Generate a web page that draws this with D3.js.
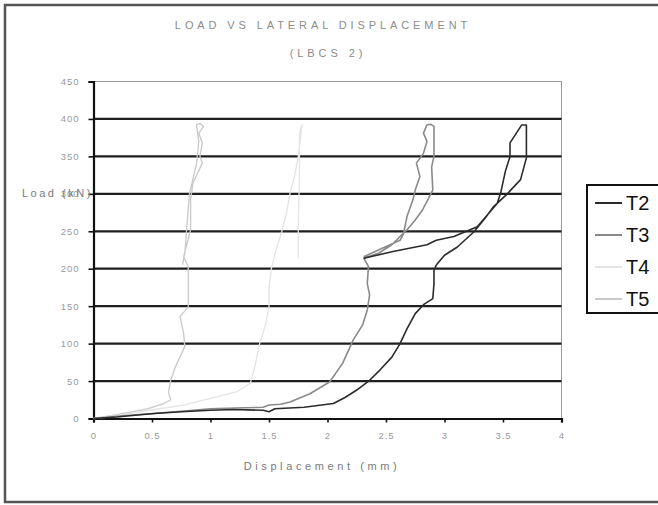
<!DOCTYPE html>
<html>
<head>
<meta charset="utf-8">
<script src="https://cdn.jsdelivr.net/npm/d3@7"></script>
<style>
  body { margin: 0; background: #fff; }
  svg { display: block; font-family: "Liberation Sans", Arial, sans-serif; }
</style>
</head>
<body>
<svg id="chart" width="658" height="505"></svg>
<script>
// series names + colours (legend order)
let seriesNames = ['T2', 'T3', 'T4', 'T5'];
let seriesColors = ['#2b2b2b', '#8a8a8a', '#e4e4e4', '#c9c9c9'];

let xTicks = [0, 0.5, 1, 1.5, 2, 2.5, 3, 3.5, 4];
let yTicks = [0, 50, 100, 150, 200, 250, 300, 350, 400, 450];

// [displacement (mm), load (kN)]
let t2 = [[0,0],[0.2,2],[0.4,5],[0.55,7],[0.75,9],[1.0,11],[1.2,12],[1.45,11],[1.5,9],[1.55,13],
  [1.8,15],[2.05,20],[2.15,28],[2.25,38],[2.36,51],[2.45,65],[2.55,82],[2.62,100],[2.68,120],
  [2.75,140],[2.82,152],[2.9,160],[2.91,180],[2.91,198],[2.93,205],[3.0,218],[3.11,229],[3.25,249],
  [3.35,268],[3.42,283],[3.53,299],[3.65,319],[3.7,348],[3.7,392],[3.66,392],[3.56,368],[3.56,350],
  [3.52,330],[3.48,301],[3.45,287],[3.28,256],[3.08,243],[2.93,238],[2.85,232],[2.56,223],[2.31,214]];

let t3 = [[0,0],[0.2,3],[0.45,6],[0.7,9],[1.0,13],[1.2,14],[1.45,15],[1.5,18],[1.6,19],[1.68,22],
  [1.85,33],[2.02,49],[2.13,74],[2.22,105],[2.3,125],[2.34,145],[2.36,165],[2.34,180],[2.35,203],
  [2.31,214],[2.44,221],[2.55,232],[2.62,243],[2.68,252],[2.75,265],[2.81,278],[2.9,305],[2.89,336],
  [2.91,350],[2.91,390],[2.88,393],[2.85,392],[2.82,381],[2.85,370],[2.82,354],[2.76,341],[2.79,323],
  [2.75,305],[2.73,292],[2.68,270],[2.65,247],[2.62,238],[2.45,226],[2.31,216]];

let t4 = [[0,0],[0.25,5],[0.48,11],[0.77,18],[1.05,29],[1.23,36],[1.34,47],[1.38,70],[1.42,100],
  [1.47,125],[1.5,149],[1.5,175],[1.52,200],[1.56,225],[1.61,250],[1.65,275],[1.68,301],[1.72,325],
  [1.75,350],[1.77,375],[1.78,392],[1.76,380],[1.76,320],[1.75,260],[1.75,214]];

let t5 = [[0,0],[0.2,5],[0.46,13],[0.6,20],[0.66,25],[0.64,35],[0.66,51],[0.7,69],[0.78,96],
  [0.77,114],[0.74,136],[0.81,149],[0.81,175],[0.81,203],[0.77,216],[0.8,234],[0.83,252],[0.83,292],
  [0.85,314],[0.93,341],[0.91,350],[0.93,368],[0.9,381],[0.94,390],[0.91,394],[0.88,392],[0.9,370],
  [0.88,340],[0.82,300],[0.8,260],[0.78,220],[0.76,205]];

let seriesData = [t2, t3, t4, t5];

let svg = d3.select('#chart');

// outer chart border (runs off the right side)
svg.append('rect')
  .attr('x', 5).attr('y', 5)
  .attr('width', 700).attr('height', 497)
  .style('fill', 'none')
  .style('stroke', '#555')
  .style('stroke-width', 2.5);

let sx = d3.scaleLinear().domain([0, 4]).range([93.5, 561.5]);
let sy = d3.scaleLinear().domain([0, 450]).range([418.5, 81.5]);

// title
let title = svg.append('g')
  .style('fill', '#8c8c8c')
  .style('font-size', '11px')
  .style('letter-spacing', '3.9px')
  .style('text-anchor', 'middle');
title.append('text').attr('x', 323).attr('y', 29).text('LOAD VS LATERAL DISPLACEMENT');
title.append('text').attr('x', 328).attr('y', 57).text('(LBCS 2)');

// plot area border (right + top edges, light)
svg.append('rect')
  .attr('x', sx(0)).attr('y', sy(450))
  .attr('width', sx(4) - sx(0)).attr('height', sy(0) - sy(450))
  .style('fill', 'none')
  .style('stroke', '#999')
  .style('stroke-width', 1);

// gridlines
svg.append('g')
  .selectAll('line')
  .data(yTicks.filter(d => d > 0 && d < 450))
  .enter()
  .append('line')
    .attr('x1', sx(0)).attr('x2', sx(4))
    .attr('y1', d => sy(d)).attr('y2', d => sy(d))
    .style('stroke', '#1f1f1f')
    .style('stroke-width', 2.2);

// axes
let xAxis = d3.axisBottom(sx).tickValues(xTicks).tickSize(4).tickFormat(d => d);
let yAxis = d3.axisLeft(sy).tickValues(yTicks).tickSize(5).tickFormat(d => d);

let gx = svg.append('g')
  .attr('transform', `translate(0,${sy(0)})`)
  .call(xAxis);
let gy = svg.append('g')
  .attr('transform', `translate(${sx(0)},0)`)
  .call(yAxis);

[gx, gy].forEach(g => {
  g.select('.domain').style('stroke', '#111').style('stroke-width', 2.2);
  g.selectAll('.tick line').style('stroke', '#111').style('stroke-width', 1.6);
  g.selectAll('.tick text')
    .style('fill', '#9a9a9a')
    .style('font-size', '9.5px')
    .style('letter-spacing', '1px')
    .style('font-family', '"Liberation Sans", Arial, sans-serif');
});
gx.selectAll('.tick text').attr('dy', '1.1em').attr('y', 10);
gy.selectAll('.tick text').attr('x', -14);

// axis titles
svg.append('text')
  .attr('x', 322).attr('y', 470)
  .style('fill', '#7a7a7a')
  .style('font-size', '11px')
  .style('letter-spacing', '3.6px')
  .style('text-anchor', 'middle')
  .text('Displacement (mm)');

svg.append('text')
  .attr('x', 22).attr('y', 197)
  .style('fill', '#7a7a7a')
  .style('font-size', '11px')
  .style('letter-spacing', '2.5px')
  .text('Load (kN)');

// curves
let line = d3.line()
  .x(d => sx(d[0]))
  .y(d => sy(d[1]));

svg.append('g')
  .selectAll('path')
  .data(seriesData.map((d, i) => ({name: seriesNames[i], color: seriesColors[i], values: d})).reverse())
  .enter()
  .append('path')
    .attr('d', d => line(d.values))
    .style('fill', 'none')
    .style('stroke', d => d.color)
    .style('stroke-width', d => d.name == 'T2' || d.name == 'T3' ? 1.6 : 1.3)
    .style('stroke-linejoin', 'round');

// legend
let legend = svg.append('g');
legend.append('rect')
  .attr('x', 587).attr('y', 185)
  .attr('width', 100).attr('height', 128)
  .style('fill', '#fff')
  .style('stroke', '#111')
  .style('stroke-width', 2);

let items = legend.selectAll('.item')
  .data(seriesNames)
  .enter()
  .append('g')
    .attr('class', 'item')
    .attr('transform', (d, i) => `translate(0,${203 + i * 32})`);

items.append('line')
  .attr('x1', 595).attr('x2', 622)
  .attr('y1', 0).attr('y2', 0)
  .style('stroke', (d, i) => seriesColors[i])
  .style('stroke-width', 2);

items.append('text')
  .attr('x', 626).attr('y', 7)
  .style('font-size', '20px')
  .style('fill', '#111')
  .text(d => d);
</script>
</body>
</html>
